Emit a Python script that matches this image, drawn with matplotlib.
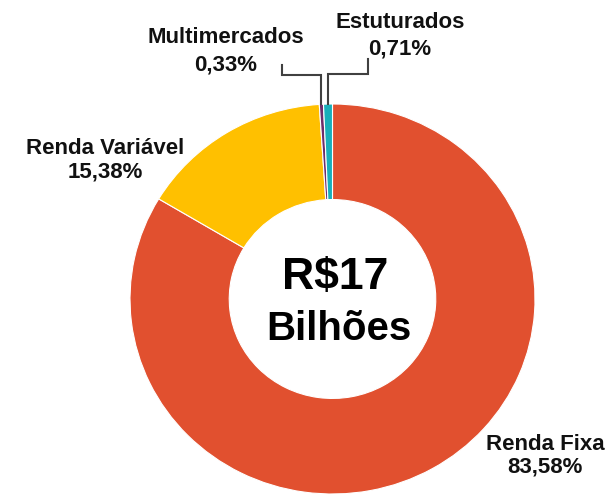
import numpy as np
import matplotlib.pyplot as plt

# dados do gráfico
categorias = ['Renda Fixa', 'Renda Variável', 'Multimercados', 'Estuturados']
percentuais = [83.58, 15.38, 0.33, 0.71]
cores = ['#E1502F', '#FFC000', '#6E2C6A', '#18AFBA']

plt.rcParams['font.family'] = ['Liberation Sans', 'DejaVu Sans']

W, H = 614, 498
cx, cy = 332.5, 299      # centro do anel (pixels)
rx, ry = 202.5, 195      # raios (pixels)

fig = plt.figure(figsize=(W / 100, H / 100), dpi=100)
ax = fig.add_axes([(cx - rx) / W, (H - cy - ry) / H, 2 * rx / W, 2 * ry / H])

wedges, _ = ax.pie(percentuais, colors=cores, startangle=90, counterclock=False,
                   wedgeprops=dict(width=0.49, edgecolor='white', linewidth=0.8))
ax.set_xlim(-1, 1)
ax.set_ylim(-1, 1)
ax.set_aspect('auto')
ax.axis('off')


# conversão pixel -> coordenadas do eixo
def px(x, y):
    return (x - cx) / rx, (cy - y) / ry


def fmt(v):
    return f"{v:.2f}".replace('.', ',') + '%'


# posições dos rótulos (pixels): linha 1, linha 2
pos_rotulos = {
    'Renda Fixa': (545, 444, 467),
    'Renda Variável': (105, 148, 172),
    'Multimercados': (226, 37, 65),
    'Estuturados': (400, 22, 49),
}

for cat, val in zip(categorias, percentuais):
    x, y1, y2 = pos_rotulos[cat]
    ax.text(*px(x, y1), cat, ha='center', va='center', fontsize=16,
            fontweight='bold', color='#111111')
    ax.text(*px(x, y2), fmt(val), ha='center', va='center', fontsize=16,
            fontweight='bold', color='#111111')

# linhas de chamada para as fatias pequenas
chamadas = {'Multimercados': (282, 75, 65), 'Estuturados': (368, 74, 59)}
for i, cat in enumerate(categorias):
    if cat not in chamadas:
        continue
    w = wedges[i]
    ang = np.deg2rad((w.theta1 + w.theta2) / 2)
    x0, y0 = np.cos(ang), np.sin(ang)
    lx, ey, ly = chamadas[cat]
    _, ye = px(0, ey)
    xl, yl = px(lx, ly)
    ax.plot([x0, x0, xl, xl], [y0, ye, ye, yl], color='#404040', lw=1.5,
            clip_on=False, solid_joinstyle='miter')

# texto central
ax.text(*px(335, 277), 'R$17', ha='center', va='center', fontsize=32,
        fontweight='bold', color='black')
ax.text(*px(339, 329), 'Bilhões', ha='center', va='center', fontsize=29,
        fontweight='bold', color='black')

fig.savefig('out.png', dpi=100, facecolor='white')
